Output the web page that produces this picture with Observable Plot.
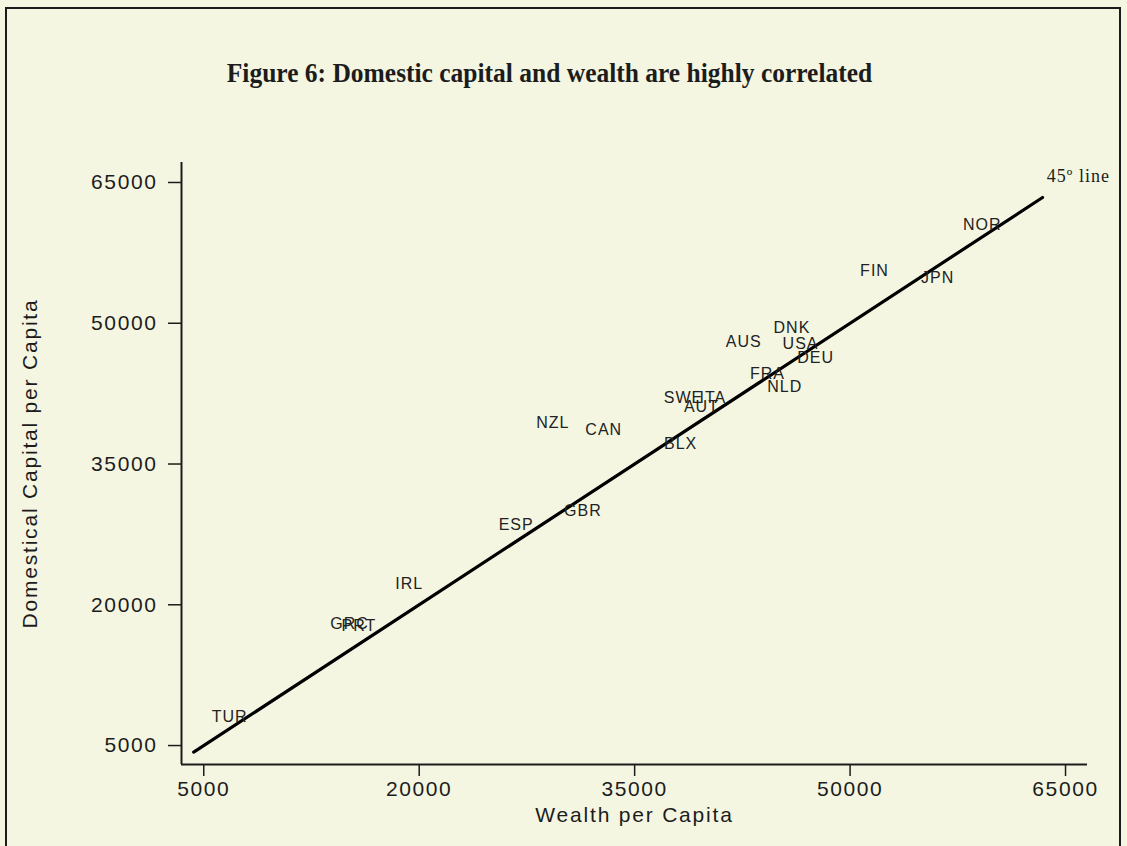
<!DOCTYPE html>
<html>
<head>
<meta charset="utf-8">
<script src="https://cdn.jsdelivr.net/npm/d3@7"></script>
<script src="https://cdn.jsdelivr.net/npm/@observablehq/plot@0.6"></script>
<style>
  html, body { margin: 0; padding: 0; background: #F4F6E2; width: 1127px; height: 846px; overflow: hidden; }
  #border { position: absolute; left: 5px; top: 7px; width: 1116px; height: 900px; border: 2px solid #1c1c1c; box-sizing: border-box; }
  #title { position: absolute; left: -14px; top: 57px; width: 1127px; text-align: center;
           font-family: "Liberation Serif", "Times New Roman", serif; font-weight: bold; font-size: 28px; line-height: 32px; color: #1c1c1c;
           transform: scaleX(0.91); transform-origin: 50% 50%; }
  #chart { position: absolute; left: 0; top: 100px; }
  #chart svg { background: transparent; overflow: visible; }
  #chart g[aria-label="text"] text { letter-spacing: 1px; }
  #chart g[aria-label="y-axis tick label"] text, #chart g[aria-label="x-axis tick label"] text { letter-spacing: 1.6px; }
  #chart g.axis-title text { letter-spacing: 1.8px; }
</style>
</head>
<body>
<div id="border"></div>
<div id="title">Figure 6: Domestic capital and wealth are highly correlated</div>
<div id="chart"></div>
<script>
// Country labels and values
const countries = ["TUR","GRC","PRT","IRL","ESP","GBR","NZL","CAN","BLX","SWE","ITA","AUT","FRA","NLD","AUS","DNK","USA","DEU","FIN","JPN","NOR"];
const wealth   = [6800,15150,15800,19300,26750,31400,29300,32850,38200,38400,40450,39650,44250,45450,42600,45950,46550,47600,51700,56100,59200];
const capital  = [8100,18000,17800,22200,28500,30000,39400,38600,37150,42000,42000,41100,44600,43250,48050,49500,47850,46350,55600,54800,60450];

// 45-degree reference line endpoints
const lineEnds = [4300, 63400];
const lineLabel = "45º line";
const lineLabelPos = [63700, 65100];

// Axes
const xTicks = [5000, 20000, 35000, 50000, 65000];
const yTicks = [5000, 20000, 35000, 50000, 65000];
const xDomain = [3450, 66530];
const yDomain = [2980, 67130];
const xTitle = "Wealth per Capita";
const yTitle = "Domestical Capital per Capita";

const points = countries.map((c, i) => ({country: c, wealth: wealth[i], capital: capital[i]}));
const diag = lineEnds.map(v => ({x: v, y: v}));

const ink = "#1c1c1c";

const plot = Plot.plot({
  width: 1127,
  height: 746,
  marginLeft: 181,
  marginRight: 40,
  marginTop: 62,
  marginBottom: 82,
  style: {fontFamily: "'Liberation Sans', Arial, sans-serif", fontSize: "21px", color: ink, background: "transparent"},
  x: {domain: xDomain},
  y: {domain: yDomain},
  marks: [
    Plot.axisX({ticks: xTicks, tickSize: 12, tickPadding: 5, tickFormat: d => String(d), label: null, stroke: ink, strokeWidth: 1.5, fill: ink}),
    Plot.axisY({ticks: yTicks, tickSize: 13, tickPadding: 11, tickFormat: d => String(d), label: null, stroke: ink, strokeWidth: 1.5, fill: ink}),
    Plot.ruleX([xDomain[0]], {stroke: ink, strokeWidth: 2}),
    Plot.ruleY([yDomain[0]], {stroke: ink, strokeWidth: 2}),
    Plot.line(diag, {x: "x", y: "y", stroke: "#000", strokeWidth: 3.2}),
    Plot.text(points, {x: "wealth", y: "capital", text: "country", fontSize: 16, fill: "#222"}),
    Plot.text([{x: lineLabelPos[0], y: lineLabelPos[1], t: lineLabel}], {x: "x", y: "y", text: "t", textAnchor: "start", lineAnchor: "bottom", fontSize: 18, fontFamily: "'Liberation Serif', 'Times New Roman', serif", fill: ink}),
    Plot.text([xTitle], {frameAnchor: "bottom", dy: 51, textAnchor: "middle", lineAnchor: "middle", text: d => d, fontSize: 21, fill: ink, className: "axis-title"}),
    Plot.text([yTitle], {frameAnchor: "left", dx: -151, rotate: -90, textAnchor: "middle", lineAnchor: "middle", text: d => d, fontSize: 21, fill: ink, className: "axis-title"})
  ]
});
document.getElementById("chart").appendChild(plot);
</script>
</body>
</html>
